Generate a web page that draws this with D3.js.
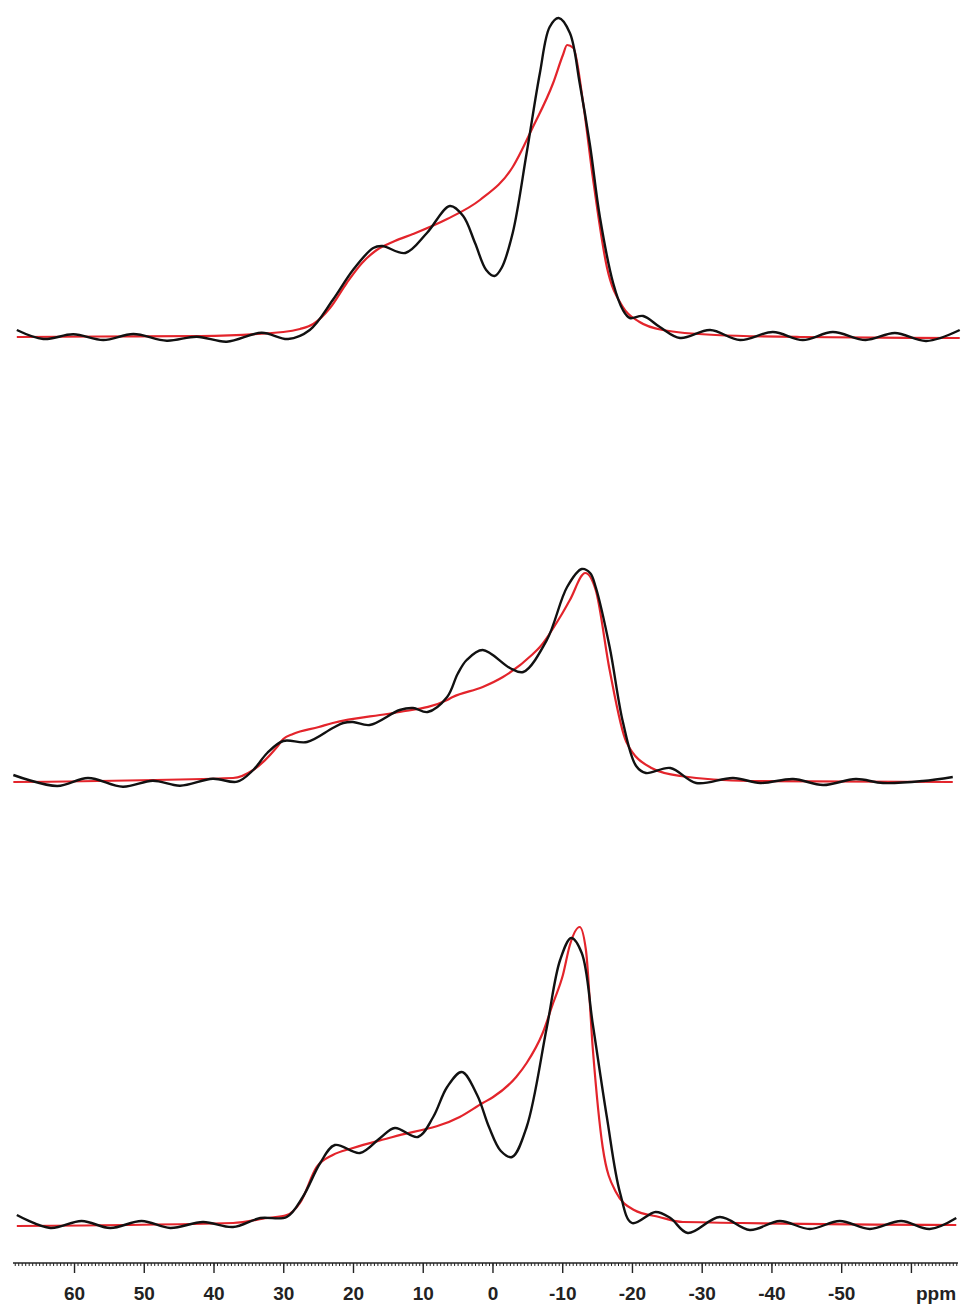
<!DOCTYPE html>
<html>
<head>
<meta charset="utf-8">
<script src="https://cdn.jsdelivr.net/npm/d3@7"></script>
<style>
  html, body { margin: 0; padding: 0; background: #fff; }
  svg { display: block; }
</style>
</head>
<body>
<svg id="chart" width="966" height="1309"></svg>
<script>
// ---- data: [ppm, intensity] ----
const topExperimental = [
  [68.2, 8], [64.4, -1], [60.1, 3.7], [55.8, -2], [51.5, 4], [46.7, -2.7], [42.4, 1.3], [38.1, -3.7],
  [33.1, 5.3], [29.3, -1], [26.2, 8], [22.9, 38], [20.0, 68], [17.1, 90], [15.8, 92], [12.5, 85],
  [9.4, 105], [6.1, 132], [4.2, 122], [2.5, 95], [0.9, 68], [-0.3, 62], [-1.3, 70], [-2.9, 105],
  [-4.9, 185], [-6.8, 265], [-8.2, 311], [-9.5, 320], [-11.1, 305], [-12.5, 255], [-14.0, 192],
  [-15.4, 121], [-17.3, 55], [-18.7, 28], [-19.7, 20], [-21.6, 22], [-24.0, 11], [-26.9, 0],
  [-31.2, 8], [-35.5, -2], [-40.2, 6], [-44.5, -2], [-48.8, 6], [-53.5, -2], [-57.7, 5], [-62.2, -3],
  [-67.0, 8]
];
const topFit = [
  [68.2, 1], [56.3, 1.5], [41.9, 2], [30.0, 6], [27.6, 9], [25.7, 14], [23.3, 30], [20.9, 55],
  [18.7, 75], [16.6, 88], [14.0, 97], [11.4, 104], [6.5, 119], [1.8, 138], [-2.9, 171], [-5.8, 211],
  [-8.7, 255], [-10.1, 283], [-10.7, 293], [-11.6, 290], [-13.0, 235], [-14.4, 160], [-16.4, 71],
  [-18.7, 31], [-21.1, 16], [-24.4, 8], [-32.0, 3], [-44.1, 1], [-67.0, 0]
];
const middleExperimental = [
  [68.7, 7], [62.4, -4], [58.0, 4], [53.0, -4.7], [48.7, 1.3], [44.8, -3.7], [40.1, 3.3], [36.6, 0.3],
  [34.3, 12], [32.3, 29], [30.0, 41], [26.6, 40], [22.9, 54], [21.4, 59], [20.0, 60], [17.6, 57],
  [13.3, 72], [11.4, 74], [9.3, 70], [6.5, 85], [5.0, 108], [3.7, 122], [1.4, 132], [-2.5, 114],
  [-4.4, 110], [-7.8, 142], [-10.7, 195], [-12.8, 213], [-14.0, 209], [-14.8, 195], [-16.8, 135],
  [-18.7, 60], [-20.6, 16], [-22.0, 9], [-25.5, 14], [-29.2, -1], [-34.5, 4], [-38.4, -1], [-43.1, 3],
  [-47.4, -3], [-52.1, 3], [-56.0, -1], [-61.7, 1], [-66.0, 5]
];
const middleFit = [
  [68.7, 0], [37.2, 4], [34.3, 12], [30.9, 35], [30.0, 43], [28.6, 48], [24.9, 55], [22.9, 59],
  [15.1, 68], [13.3, 70], [6.5, 82], [5.7, 85], [1.4, 95], [-1.5, 105], [-5.8, 128], [-6.8, 135],
  [-9.7, 165], [-11.1, 182], [-13.3, 209], [-14.8, 192], [-16.8, 112], [-19.2, 40], [-22.8, 14],
  [-26.9, 6], [-36.9, 1], [-66.0, 0]
];
const bottomExperimental = [
  [68.2, 10], [63.4, -3], [58.9, 4], [54.8, -3], [50.3, 4], [46.2, -3], [41.5, 3], [37.2, -2],
  [33.3, 7], [29.5, 8], [27.2, 28], [24.7, 62], [22.6, 80], [19.0, 72], [16.1, 87], [14.0, 97],
  [10.7, 88], [8.5, 108], [6.5, 138], [4.4, 153], [2.2, 130], [0.5, 98], [-1.2, 74], [-2.8, 68],
  [-4.9, 98], [-7.8, 198], [-9.7, 265], [-11.3, 287], [-12.8, 272], [-14.4, 200], [-16.4, 108],
  [-18.3, 32], [-20.0, 2], [-23.4, 13], [-25.5, 7], [-28.0, -8], [-32.6, 8], [-36.9, -5], [-41.2, 4],
  [-45.5, -4], [-49.8, 4], [-54.1, -4], [-58.6, 4], [-62.7, -4], [-66.5, 7]
];
const bottomFit = [
  [68.2, -1], [37.2, 2], [32.3, 7], [29.5, 10], [27.6, 22], [25.2, 58], [22.9, 70], [20.0, 77],
  [14.3, 88], [4.7, 108], [1.4, 122], [-0.1, 128], [-3.4, 148], [-4.9, 162], [-7.2, 192],
  [-8.7, 222], [-10.1, 250], [-11.1, 280], [-12.5, 298], [-13.4, 275], [-14.4, 175], [-15.8, 78],
  [-17.7, 33], [-20.3, 15], [-23.9, 8], [-27.3, 3], [-66.5, 0]
];
const majorTicks = [60, 50, 40, 30, 20, 10, 0, -10, -20, -30, -40, -50, -60];
const tickLabels = ["60", "50", "40", "30", "20", "10", "0", "-10", "-20", "-30", "-40", "-50", ""];
const unitLabel = "ppm";

// ---- layout ----
const svg = d3.select("#chart");
const x = d3.scaleLinear().domain([68.75, -66.75]).range([13, 958]);
const panels = [
  { exp: topExperimental, fit: topFit, base: 338 },
  { exp: middleExperimental, fit: middleFit, base: 782 },
  { exp: bottomExperimental, fit: bottomFit, base: 1225 }
];

panels.forEach(p => {
  const y = d3.scaleLinear().domain([0, 320]).range([p.base, p.base - 320]);
  const fitLine = d3.line().x(d => x(d[0])).y(d => y(d[1])).curve(d3.curveMonotoneX);
  const expLine = d3.line().x(d => x(d[0])).y(d => y(d[1])).curve(d3.curveCatmullRom.alpha(0.5));
  svg.append("path").attr("d", fitLine(p.fit))
    .attr("fill", "none").attr("stroke", "#e3242b").attr("stroke-width", 2.2)
    .attr("stroke-linejoin", "round");
  svg.append("path").attr("d", expLine(p.exp))
    .attr("fill", "none").attr("stroke", "#111").attr("stroke-width", 2.4)
    .attr("stroke-linejoin", "round");
});

// ---- axis ----
const axisY = 1263;
const minorTicks = d3.range(68.5, -66.6, -0.5);
const axisG = svg.append("g").attr("transform", `translate(0,${axisY})`);
axisG.call(d3.axisBottom(x).tickValues(minorTicks).tickSize(3).tickFormat(""))
  .call(g => g.select(".domain").remove())
  .call(g => g.selectAll(".tick line").attr("stroke", "#222").attr("stroke-width", 1));
const majorG = svg.append("g").attr("transform", `translate(0,${axisY})`);
majorG.call(d3.axisBottom(x).tickValues(majorTicks).tickSize(10).tickSizeOuter(0)
    .tickFormat((d, i) => tickLabels[i]))
  .call(g => g.select(".domain").attr("d", `M${x.range()[0]},0H${x.range()[1]}`)
    .attr("stroke", "#222").attr("stroke-width", 1.6))
  .call(g => g.selectAll(".tick line").attr("stroke", "#222").attr("stroke-width", 1.4))
  .call(g => g.selectAll(".tick text").attr("dy", 0).attr("y", 37)
    .attr("fill", "#222").attr("font-family", "'Liberation Sans', Arial, sans-serif")
    .attr("font-weight", "bold").attr("font-size", 19));
svg.append("text").attr("x", 936).attr("y", axisY + 37).attr("text-anchor", "middle")
  .attr("fill", "#222").attr("font-family", "'Liberation Sans', Arial, sans-serif")
  .attr("font-weight", "bold").attr("font-size", 19).text(unitLabel);
</script>
</body>
</html>
